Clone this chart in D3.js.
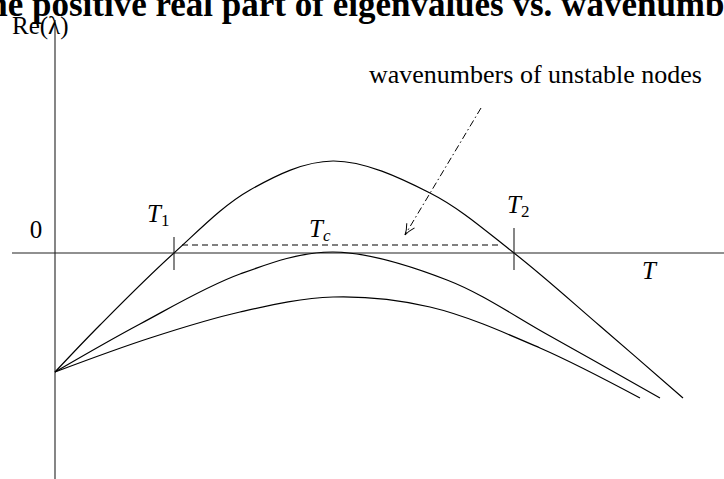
<!DOCTYPE html>
<html>
<head>
<meta charset="utf-8">
<script src="https://cdn.jsdelivr.net/npm/d3@7"></script>
<style>
	body { margin: 0; background: #fff; }
	svg { display: block; }
	text { font-family: "Liberation Serif", "DejaVu Serif", serif; fill: #000; }
	.axis { stroke: #222; stroke-width: 1.1; }
	.curve { fill: none; stroke: #000; stroke-width: 1.2; }
</style>
</head>
<body>
<svg id="chart" width="724" height="479"></svg>
<script>

// wavenumber T vs Re(lambda)
var curveNames = ["above", "critical", "below"];

var curveAbove = [
	[0, -2.38], [0.9, -1.44], [2.38, 0], [3.9, 1.26], [5.56, 1.84],
	[7.5, 1.2], [9.18, 0], [10.9, -1.46], [12.56, -2.9]
];
var curveCritical = [
	[0, -2.38], [1.7, -1.42], [3.7, -0.42], [5.56, 0.02],
	[7.84, -0.54], [9.9, -1.66], [12.1, -2.9]
];
var curveBelow = [
	[0, -2.38], [1.9, -1.7], [3.7, -1.18], [5.56, -0.88],
	[7.5, -1.08], [9.7, -1.9], [11.7, -2.9]
];

// marked wavenumbers on the T axis
var tickT = [
	{name: "1", t: 2.38, top: 0.32, bottom: -0.34},
	{name: "2", t: 9.18, top: 0.5, bottom: -0.34}
];
var tickLabelDx = [-27, -7];
var tc = 5.56;
var unstableBand = [2.54, 8.9];
var unstableLevel = 0.16;
var arrowFrom = [8.52, 2.9],
	arrowTo = [7.0, 0.36];

var title = "The positive real part of eigenvalues vs. wavenumbers",
	yLabel = "Re(\u03bb)",
	arrowLabel = "wavenumbers of unstable nodes";

var x = d3.scaleLinear().domain([0, 10]).range([55, 555]),
	y = d3.scaleLinear().domain([0, 1]).range([253, 203]);

var svg = d3.select("#chart");

var defs = svg.append("defs");
defs.append("marker")
	.attr("id", "head")
	.attr("viewBox", "-12 -6 14 12")
	.attr("refX", 0)
	.attr("refY", 0)
	.attr("markerWidth", 14)
	.attr("markerHeight", 12)
	.attr("markerUnits", "userSpaceOnUse")
	.attr("orient", "auto")
	.append("path")
	.attr("d", "M-11,-4.5 Q-5,-1 0,0 Q-5,1 -11,4.5")
	.attr("fill", "none")
	.attr("stroke", "#000")
	.attr("stroke-width", 1);

// title, clipped by the page edges like the original
svg.append("text")
	.attr("x", 367)
	.attr("y", 16)
	.attr("text-anchor", "middle")
	.style("font-weight", "bold")
	.style("font-size", "35px")
	.text(title);

// axes
svg.append("line")
	.attr("class", "axis")
	.attr("x1", x(0)).attr("x2", x(0))
	.attr("y1", y(4.66)).attr("y2", y(-4.6));

svg.append("line")
	.attr("class", "axis")
	.attr("x1", x(-0.86)).attr("x2", x(13.4))
	.attr("y1", y(0)).attr("y2", y(0));

svg.append("text")
	.attr("x", 12)
	.attr("y", 34)
	.style("font-size", "25px")
	.text(yLabel);

svg.append("text")
	.attr("x", x(-0.38))
	.attr("y", 238)
	.attr("text-anchor", "middle")
	.style("font-size", "25px")
	.text("0");

svg.append("text")
	.attr("x", 642)
	.attr("y", 279)
	.style("font-size", "25px")
	.style("font-style", "italic")
	.text("T");

// curves
var line = d3.line()
	.x(function (d) { return x(d[0]); })
	.y(function (d) { return y(d[1]); })
	.curve(d3.curveCatmullRom.alpha(0.5));

svg.selectAll("path.curve")
	.data([curveAbove, curveCritical, curveBelow])
	.enter()
	.append("path")
	.attr("class", function (d, i) { return "curve " + curveNames[i]; })
	.attr("d", line);

// T1, T2 marks
var tickG = svg.selectAll("g.tick")
	.data(tickT)
	.enter()
	.append("g")
	.attr("class", "tick");

tickG.append("line")
	.attr("class", "axis")
	.attr("x1", function (d) { return x(d.t); })
	.attr("x2", function (d) { return x(d.t); })
	.attr("y1", function (d) { return y(d.top); })
	.attr("y2", function (d) { return y(d.bottom); });

var tickText = tickG.append("text")
	.attr("x", function (d, i) { return x(d.t) + tickLabelDx[i]; })
	.attr("y", function (d) { return y(d.top) - 15; })
	.style("font-size", "25px");

tickText.append("tspan")
	.style("font-style", "italic")
	.text("T");
tickText.append("tspan")
	.attr("dy", 4)
	.style("font-size", "17px")
	.text(function (d) { return d.name; });

var tcText = svg.append("text")
	.attr("x", x(tc) - 24)
	.attr("y", 237)
	.style("font-size", "25px");
tcText.append("tspan")
	.style("font-style", "italic")
	.text("T");
tcText.append("tspan")
	.attr("dy", 4)
	.style("font-size", "17px")
	.style("font-style", "italic")
	.text("c");

// band of unstable wavenumbers
svg.append("line")
	.attr("x1", x(unstableBand[0])).attr("x2", x(unstableBand[1]))
	.attr("y1", y(unstableLevel)).attr("y2", y(unstableLevel))
	.attr("stroke", "#000")
	.attr("stroke-width", 1)
	.attr("stroke-dasharray", "6,4");

svg.append("line")
	.attr("x1", x(arrowFrom[0])).attr("y1", y(arrowFrom[1]))
	.attr("x2", x(arrowTo[0])).attr("y2", y(arrowTo[1]))
	.attr("stroke", "#000")
	.attr("stroke-width", 1)
	.attr("stroke-dasharray", "7,3,1.5,3")
	.attr("marker-end", "url(#head)");

svg.append("text")
	.attr("x", 369)
	.attr("y", 83)
	.style("font-size", "26px")
	.text(arrowLabel);

</script>
</body>
</html>
